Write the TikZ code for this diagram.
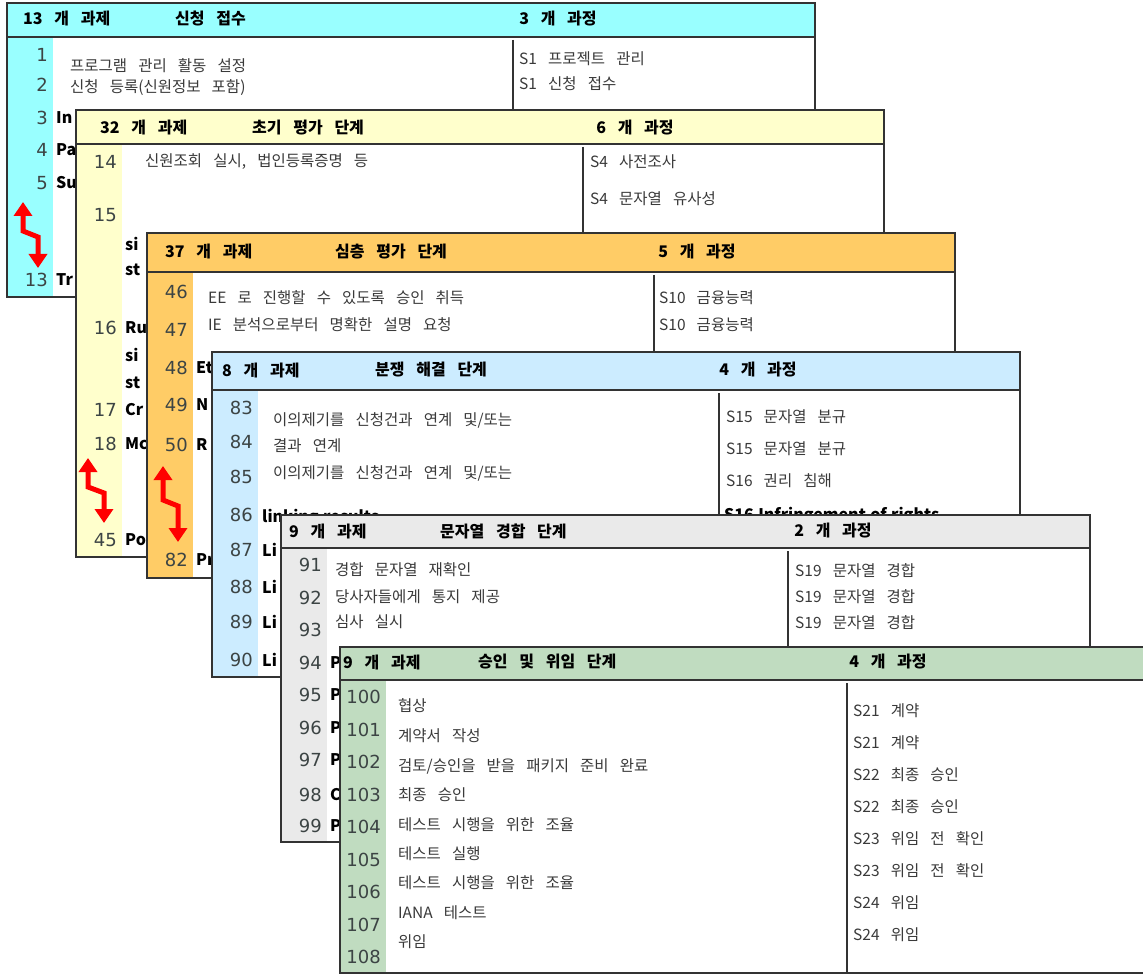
\documentclass[tikz,border=0pt]{standalone}
\usepackage{fontspec}
\setmainfont{Noto Sans CJK KR}[WordSpace=3.2]
\newfontfamily\numfont{DejaVu Sans}
\newfontfamily\stubfont{Noto Sans CJK KR}[WordSpace=1.2]
\usepackage{tikz}
\usetikzlibrary{arrows.meta,calc}
\definecolor{band1}{HTML}{99FFFF}
\definecolor{band2}{HTML}{FFFFCC}
\definecolor{band3}{HTML}{FFCC66}
\definecolor{band4}{HTML}{CCECFF}
\definecolor{band5}{HTML}{EAEAEA}
\definecolor{band6}{HTML}{C0DCC0}
\definecolor{numgray}{HTML}{3C4444}
\definecolor{textgray}{HTML}{3A3A3A}
\definecolor{edge}{HTML}{333333}
\tikzset{
  frame/.style={draw=edge, line width=1.6pt},
  head/.style={font=\bfseries\fontsize{16}{19}\selectfont, anchor=west, inner sep=0pt},
  num/.style={font=\numfont\fontsize{18}{20}\selectfont, text=numgray, anchor=east, inner sep=0pt},
  item/.style={font=\fontsize{15.5}{18}\selectfont, text=textgray, anchor=west, inner sep=0pt},
  stub/.style={font=\stubfont\bfseries\fontsize{16}{19}\selectfont, anchor=west, inner sep=0pt},
  zigzag/.style={red, line width=5pt, line join=miter,
    {Triangle[width=18pt,length=14pt]}-{Triangle[width=18pt,length=14pt]}},
}
\begin{document}
\begin{tikzpicture}[x=1pt,y=-1pt]
\useasboundingbox (0,0) rectangle (1143,976);
\clip (0,0) rectangle (1143,976);
\fill[white] (0,0) rectangle (1143,976);

% 1: 신청 접수
\fill[white] (7,3) rectangle (815,297);
\fill[band1] (7,3) rectangle (815,37);
\fill[band1] (7,37) rectangle (53,297);
\draw[frame] (7,3) rectangle (815,297);
\draw[frame] (7,37) -- (815,37);
\draw[frame] (513,40) -- (513,297);
\node[head] (h1a) at (23,19) {13 개 과제};
\node[head] (h1b) at (175,19) {신청 접수};
\node[head, anchor=center] (h1c) at (558,19) {3 개 과정};
\foreach \k/\y in {1/55,2/85,3/118,4/150,5/183,13/280}
  \node[num] (n1-\k) at (48,\y) {\k};
\foreach \k/\y/\t in {3/118/In,4/150/Pa,5/183/Su,13/280/Tr}
  \node[stub] (s1-\k) at (56,\y) {\t};
\foreach \y/\t in {66/{프로그램 관리 활동 설정},88/{신청 등록(신원정보 포함)}}
  \node[item] (a1-\y) at (70,\y) {\t};
\foreach \y/\t in {59/{S1 프로젝트 관리},84/{S1 신청 접수}}
  \node[item] (b1-\y) at (519,\y) {\t};
\coordinate (z1top) at (23,202);
\coordinate (z1bot) at (38,268);
\draw[zigzag] (z1top) -- ++(0,29) -- ++(15,6) -- (z1bot);

% 2: 초기 평가 단계
\fill[white] (76,110) rectangle (884,557);
\fill[band2] (76,110) rectangle (884,144);
\fill[band2] (76,144) rectangle (122,557);
\draw[frame] (76,110) rectangle (884,557);
\draw[frame] (76,144) -- (884,144);
\draw[frame] (583,147) -- (583,557);
\node[head] (h2a) at (100,128) {32 개 과제};
\node[head] (h2b) at (252,128) {초기 평가 단계};
\node[head, anchor=center] (h2c) at (635,128) {6 개 과정};
\foreach \k/\y in {14/162,15/215,16/328,17/410,18/444,45/540}
  \node[num] (n2-\k) at (117,\y) {\k};
\foreach \y/\t in {244/si,270/st,328/Ru,355/si,383/st,410/Cr,444/Mc,540/Po}
  \node[stub] (s2-\y) at (125,\y) {\t};
\node[item] (a2-162) at (145,162) {신원조회 실시, 법인등록증명 등};
\foreach \y/\t in {162/{S4 사전조사},199/{S4 문자열 유사성}}
  \node[item] (b2-\y) at (590,\y) {\t};
\coordinate (z2top) at (88,458);
\coordinate (z2bot) at (104,523);
\draw[zigzag] (z2top) -- ++(0,29) -- ++(16,6) -- (z2bot);

% 3: 심층 평가 단계
\fill[white] (147,233) rectangle (955,578);
\fill[band3] (147,233) rectangle (955,272);
\fill[band3] (147,272) rectangle (193,578);
\draw[frame] (147,233) rectangle (955,578);
\draw[frame] (147,272) -- (955,272);
\draw[frame] (654,275) -- (654,578);
\node[head] (h3a) at (165,252) {37 개 과제};
\node[head] (h3b) at (335,252) {심층 평가 단계};
\node[head, anchor=center] (h3c) at (697,252) {5 개 과정};
\foreach \k/\y in {46/292,47/330,48/368,49/405,50/445,82/560}
  \node[num] (n3-\k) at (188,\y) {\k};
\foreach \y/\t in {368/Et,405/N,445/R,560/Pr}
  \node[stub] (s3-\y) at (196,\y) {\t};
\foreach \y/\t in {298/{EE 로 진행할 수 있도록 승인 취득},325/{IE 분석으로부터 명확한 설명 요청}}
  \node[item] (a3-\y) at (208,\y) {\t};
\foreach \y in {298,325}
  \node[item] (b3-\y) at (659,\y) {S10 금융능력};
\coordinate (z3top) at (163,466);
\coordinate (z3bot) at (178,542);
\draw[zigzag] (z3top) -- ++(0,34) -- ++(15,6) -- (z3bot);

% 4: 분쟁 해결 단계
\fill[white] (212,352) rectangle (1020,677);
\fill[band4] (212,352) rectangle (1020,390);
\fill[band4] (212,390) rectangle (258,677);
\draw[frame] (212,352) rectangle (1020,677);
\draw[frame] (212,390) -- (1020,390);
\draw[frame] (719,393) -- (719,677);
\node[head] (h4a) at (222,370) {8 개 과제};
\node[head] (h4b) at (375,370) {분쟁 해결 단계};
\node[head, anchor=center] (h4c) at (758,370) {4 개 과정};
\foreach \k/\y in {83/408,84/442,85/477,86/515,87/550,88/587,89/622,90/660}
  \node[num] (n4-\k) at (253,\y) {\k};
\node[stub] (s4-515) at (262,518) {linking results};
\foreach \y in {550,587,622,660}
  \node[stub] (s4-\y) at (262,\y) {Li};
\foreach \y/\t in {420/{이의제기를 신청건과 연계 및/또는},446/{결과 연계},473/{이의제기를 신청건과 연계 및/또는}}
  \node[item] (a4-\y) at (273,\y) {\t};
\foreach \y/\t in {417/{S15 문자열 분규},449/{S15 문자열 분규},481/{S16 권리 침해}}
  \node[item] (b4-\y) at (726,\y) {\t};
\node[stub] (c4-512) at (724,516) {S16 Infringement of rights};

% 5: 문자열 경합 단계
\fill[white] (281,515) rectangle (1090,842);
\fill[band5] (281,515) rectangle (1090,548);
\fill[band5] (281,548) rectangle (327,842);
\draw[frame] (281,515) rectangle (1090,842);
\draw[frame] (281,548) -- (1090,548);
\draw[frame] (788,551) -- (788,842);
\node[head] (h5a) at (289,531) {9 개 과제};
\node[head] (h5b) at (440,531) {문자열 경합 단계};
\node[head, anchor=center] (h5c) at (833,531) {2 개 과정};
\foreach \k/\y in {91/565,92/598,93/630,94/663,95/695,96/728,97/760,98/795,99/826}
  \node[num] (n5-\k) at (322,\y) {\k};
\foreach \y/\t in {663/P,695/P,728/P,760/P,795/C,826/P}
  \node[stub] (s5-\y) at (330,\y) {\t};
\foreach \y/\t in {570/{경합 문자열 재확인},597/{당사자들에게 통지 제공},622/{심사 실시}}
  \node[item] (a5-\y) at (335,\y) {\t};
\foreach \y in {571,597,623}
  \node[item] (b5-\y) at (795,\y) {S19 문자열 경합};

% 6: 승인 및 위임 단계
\fill[white] (340,647) rectangle (1160,973);
\fill[band6] (340,647) rectangle (1160,680);
\fill[band6] (340,680) rectangle (386,973);
\draw[frame] (340,647) rectangle (1160,973);
\draw[frame] (340,680) -- (1160,680);
\draw[frame] (847,683) -- (847,973);
\node[head] (h6a) at (343,662) {9 개 과제};
\node[head] (h6b) at (478,662) {승인 및 위임 단계};
\node[head, anchor=center] (h6c) at (888,662) {4 개 과정};
\foreach \k/\y in {100/697,101/730,102/762,103/795,104/827,105/860,106/892,107/925,108/957}
  \node[num] (n6-\k) at (381,\y) {\k};
\foreach \y/\t in {706/협상,736/{계약서 작성},766/{검토/승인을 받을 패키지 준비 완료},795/{최종 승인},825/{테스트 시행을 위한 조율},854/{테스트 실행},883/{테스트 시행을 위한 조율},913/{IANA 테스트},942/위임}
  \node[item] (a6-\y) at (398,\y) {\t};
\foreach \y/\t in {711/{S21 계약},743/{S21 계약},775/{S22 최종 승인},807/{S22 최종 승인},839/{S23 위임 전 확인},871/{S23 위임 전 확인},903/{S24 위임},935/{S24 위임}}
  \node[item] (b6-\y) at (853,\y) {\t};
\end{tikzpicture}
\end{document}
